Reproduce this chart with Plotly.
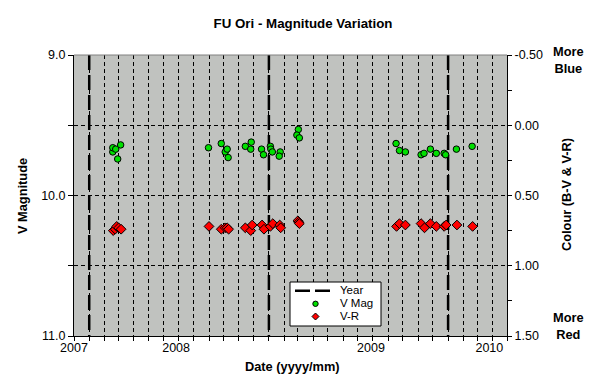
import plotly.graph_objects as go

# ---------------- data ----------------
year_dates = ["2008-01-01", "2009-01-01", "2010-01-01"]

vmag_dates = ["2008-02-18", "2008-02-18", "2008-02-24", "2008-02-28", "2008-03-05",
              "2008-08-31", "2008-09-26", "2008-10-04", "2008-10-08", "2008-10-10",
              "2008-11-14", "2008-11-26", "2008-11-25", "2008-12-17", "2008-12-21",
              "2009-01-04", "2009-01-05", "2009-01-08", "2009-01-24", "2009-01-22",
              "2009-03-02", "2009-02-27", "2009-03-04",
              "2009-09-17", "2009-09-24", "2009-10-06", "2009-11-07", "2009-11-13",
              "2009-11-26", "2009-12-08", "2009-12-24", "2009-12-27", "2010-01-18",
              "2010-02-19"]
vmag = [9.69, 9.66, 9.67, 9.74, 9.64,
        9.66, 9.63, 9.69, 9.67, 9.73,
        9.65, 9.62, 9.67, 9.67, 9.71,
        9.65, 9.67, 9.69, 9.69, 9.72,
        9.53, 9.57, 9.59,
        9.63, 9.68, 9.69, 9.71, 9.70,
        9.67, 9.70, 9.70, 9.71, 9.67,
        9.65]

vr_dates = ["2008-02-19", "2008-02-23", "2008-02-26", "2008-03-01", "2008-03-06",
            "2008-09-01", "2008-09-26", "2008-10-04", "2008-10-08", "2008-10-11",
            "2008-11-14", "2008-11-25", "2008-11-28", "2008-12-18", "2008-12-22",
            "2009-01-04", "2009-01-09", "2009-01-23", "2009-01-25",
            "2009-03-01", "2009-03-03", "2009-03-04",
            "2009-09-18", "2009-09-24", "2009-10-06", "2009-11-07", "2009-11-14",
            "2009-11-26", "2009-12-08", "2009-12-24", "2009-12-28", "2010-01-19",
            "2010-02-20"]
vr = [0.75, 0.74, 0.72, 0.73, 0.74,
      0.72, 0.74, 0.73, 0.73, 0.74,
      0.73, 0.75, 0.71, 0.71, 0.74,
      0.72, 0.70, 0.71, 0.73,
      0.68, 0.69, 0.70,
      0.72, 0.70, 0.71, 0.70, 0.73,
      0.70, 0.72, 0.72, 0.71, 0.71,
      0.72]

x_range = ["2007-12-01", "2010-05-01"]
v_range = [11.0, 9.0]
c_range = [1.5, -0.5]

x_label_dates = ["2007-12-01", "2008-06-26", "2009-07-28", "2010-03-26"]
x_label_text = ["2007", "2008", "2009", "2010"]
v_ticks = [9.0, 10.0, 11.0]
c_ticks = [-0.5, 0.0, 0.5, 1.0, 1.5]

series_names = ["Year", "V Mag", "V-R"]
GREEN = "#00E000"
RED = "#FF0000"
FONT = "Arial, Liberation Sans, sans-serif"
GRID_DASH = "4px,3px"
YEAR_DASH = "15px,5px"
TICK_SIZE = 12.5
TITLE_SIZE = 12.8

# plot-area geometry (pixels)
L, R, T, B = 74, 92, 55, 45
W, H = 599, 381
PW, PH = W - L - R, H - T - B


def px(x):
    return (x - L) / PW


def py(y):
    return (H - B - y) / PH


# year lines
yx, yy = [], []
for d in year_dates:
    yx += [d, d, None]
    yy += [v_range[1], v_range[0], None]

fig = go.Figure()
fig.add_trace(go.Scatter(x=yx, y=yy, mode="lines", name=series_names[0],
                         line=dict(color="black", width=2.5, dash=YEAR_DASH),
                         hoverinfo="skip"))
fig.add_trace(go.Scatter(x=vmag_dates, y=vmag, mode="markers", name=series_names[1],
                         marker=dict(symbol="circle", size=6.5, color=GREEN,
                                     line=dict(color="black", width=1))))
fig.add_trace(go.Scatter(x=vr_dates, y=vr, mode="markers", name=series_names[2], yaxis="y2",
                         marker=dict(symbol="diamond", size=7.5, color=RED,
                                     line=dict(color="black", width=1))))

fig.update_layout(
    width=W, height=H,
    margin=dict(l=L, r=R, t=T, b=B),
    paper_bgcolor="white",
    plot_bgcolor="#C0C2BF",
    font=dict(family=FONT, size=12, color="black"),
    showlegend=False,
    title=dict(text="<b>FU Ori - Magnitude Variation</b>", x=303/599, xref="container",
               xanchor="center", y=1-23/381, yref="container", yanchor="middle",
               font=dict(family=FONT, size=13.3, color="black")),
    xaxis=dict(type="date", range=x_range, tickmode="array",
               tickvals=x_label_dates, ticktext=x_label_text,
               ticks="", showgrid=False, zeroline=False,
               showline=True, linecolor="black", linewidth=1,
               tickfont=dict(family=FONT, size=TICK_SIZE),
               minor=dict(tickmode="linear", tick0="2007-12-01", dtick="M1",
                          showgrid=True, gridcolor="black", gridwidth=1, griddash=GRID_DASH,
                          ticks="outside", ticklen=4, tickcolor="black")),
    yaxis=dict(range=v_range, tickmode="array", tickvals=v_ticks,
               ticktext=["%.1f" % v for v in v_ticks],
               ticks="outside", ticklen=5, tickcolor="black",
               showgrid=True, gridcolor="black", gridwidth=1, griddash=GRID_DASH,
               zeroline=False, showline=True, linecolor="black", linewidth=1,
               tickfont=dict(family=FONT, size=TICK_SIZE),
               minor=dict(tickmode="linear", tick0=9.0, dtick=0.5, showgrid=True,
                          gridcolor="black", gridwidth=1, griddash=GRID_DASH,
                          ticks="outside", ticklen=5, tickcolor="black")),
    yaxis2=dict(range=c_range, overlaying="y", side="right", tickmode="array",
                tickvals=c_ticks, ticktext=["%.2f" % v for v in c_ticks],
                ticks="outside", ticklen=4, tickcolor="black",
                showgrid=False, zeroline=False, showline=True, linecolor="black",
                linewidth=1, tickfont=dict(family=FONT, size=TICK_SIZE),
                minor=dict(tickmode="linear", tick0=-0.5, dtick=0.25,
                           ticks="outside", ticklen=4, tickcolor="black")),
)

# top border of plot area
fig.add_shape(type="line", xref="paper", yref="paper", x0=0, x1=1, y0=1, y1=1,
              line=dict(color="#808080", width=1))

# ---- compact legend box (drawn with layout shapes + text) ----
fig.add_shape(type="rect", xref="paper", yref="paper",
              x0=px(290), x1=px(381), y0=py(326), y1=py(282),
              fillcolor="white", line=dict(color="black", width=1), layer="above")
row_y = [290.7, 303.8, 316.5]
fig.add_shape(type="line", xref="paper", yref="paper",
              x0=px(295), x1=px(331), y0=py(row_y[0]), y1=py(row_y[0]),
              line=dict(color="black", width=2.5, dash=YEAR_DASH), layer="above")
fig.add_shape(type="circle", xref="paper", yref="paper", xsizemode="pixel", ysizemode="pixel",
              xanchor=px(315.5), yanchor=py(row_y[1]), x0=-2.7, x1=2.7, y0=-2.7, y1=2.7,
              fillcolor=GREEN, line=dict(color="black", width=1), layer="above")
fig.add_shape(type="path", xref="paper", yref="paper", xsizemode="pixel", ysizemode="pixel",
              xanchor=px(315.5), yanchor=py(row_y[2]),
              path="M0,3.5 L3.5,0 L0,-3.5 L-3.5,0 Z",
              fillcolor=RED, line=dict(color="black", width=1), layer="above")
for name, ry in zip(series_names, row_y):
    fig.add_annotation(text=name, xref="paper", yref="paper", x=px(339), y=py(ry - 0.5),
                       xanchor="left", yanchor="middle", showarrow=False, borderpad=0,
                       font=dict(family=FONT, size=11.5, color="black"))

ann = dict(showarrow=False, font=dict(family=FONT, size=TITLE_SIZE, color="black"))
fig.add_annotation(text="<b>Date (yyyy/mm)</b>", xref="paper", yref="paper",
                   x=px(292.5), y=py(366), xanchor="center", yanchor="middle", **ann)
fig.add_annotation(text="<b>V Magnitude</b>", xref="paper", yref="paper",
                   x=px(22), y=py(196), textangle=-90,
                   xanchor="center", yanchor="middle", **ann)
fig.add_annotation(text="<b>Colour (B-V & V-R)</b>", xref="paper", yref="paper",
                   x=px(566), y=py(195), textangle=-90,
                   xanchor="center", yanchor="middle", **ann)
fig.add_annotation(text="<b>More<br>Blue</b>", xref="paper", yref="paper",
                   x=px(568), y=py(60), xanchor="center", yanchor="middle", **ann)
fig.add_annotation(text="<b>More<br>Red</b>", xref="paper", yref="paper",
                   x=px(568), y=py(326), xanchor="center", yanchor="middle", **ann)

fig.write_html("out.html", config={"displayModeBar": False},
               post_script="document.body.style.margin='0px';")
